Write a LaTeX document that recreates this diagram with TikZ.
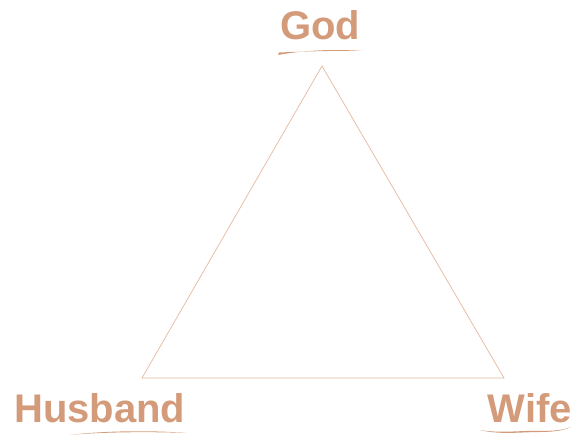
\documentclass[tikz,border=0pt]{standalone}
\usepackage{fontspec}
\setmainfont{Liberation Sans}
\usetikzlibrary{positioning}

\definecolor{clay}{HTML}{D39B79}
\definecolor{sand}{HTML}{E2B89E}

\begin{document}
\begin{tikzpicture}[
    x=1pt, y=1pt,
    word/.style={inner sep=0pt, text=clay, font=\fontsize{40}{48}\selectfont\bfseries},
    side/.style={draw=sand, line width=0.7pt, line join=miter},
    brush/.style={fill=clay}
  ]
  \useasboundingbox (0,0) rectangle (575,436);

  % corners of the triangle
  \coordinate (top)   at (322,370);
  \coordinate (left)  at (142,58);
  \coordinate (right) at (504,58);

  % labels
  \node[word, anchor=base]      (god)     at (320,396) {God};
  \node[word, anchor=base west] (husband) at (14,13)   {Husband};
  \node[word, anchor=base east] (wife)    at (572,13)  {Wife};

  % triangle
  \draw[side] (top) -- (left) -- (right) -- cycle;

  % brush strokes under the words
  \fill[brush] (278,381) .. controls (305,386) and (335,387) .. (363,385)
               .. controls (335,385.6) and (305,384.5) .. (279,383.5) -- cycle;
  \fill[brush] (70,1) .. controls (100,5) and (150,6) .. (186,3)
               .. controls (150,4.5) and (100,4) .. (70,1) -- cycle;
  \fill[brush] (480,6) .. controls (500,1) and (520,4) .. (540,4)
               .. controls (555,4) and (565,6) .. (571,9)
               .. controls (562,5.5) and (552,5) .. (540,5.2)
               .. controls (520,5.5) and (500,2.5) .. (480,6) -- cycle;

\end{tikzpicture}
\end{document}
